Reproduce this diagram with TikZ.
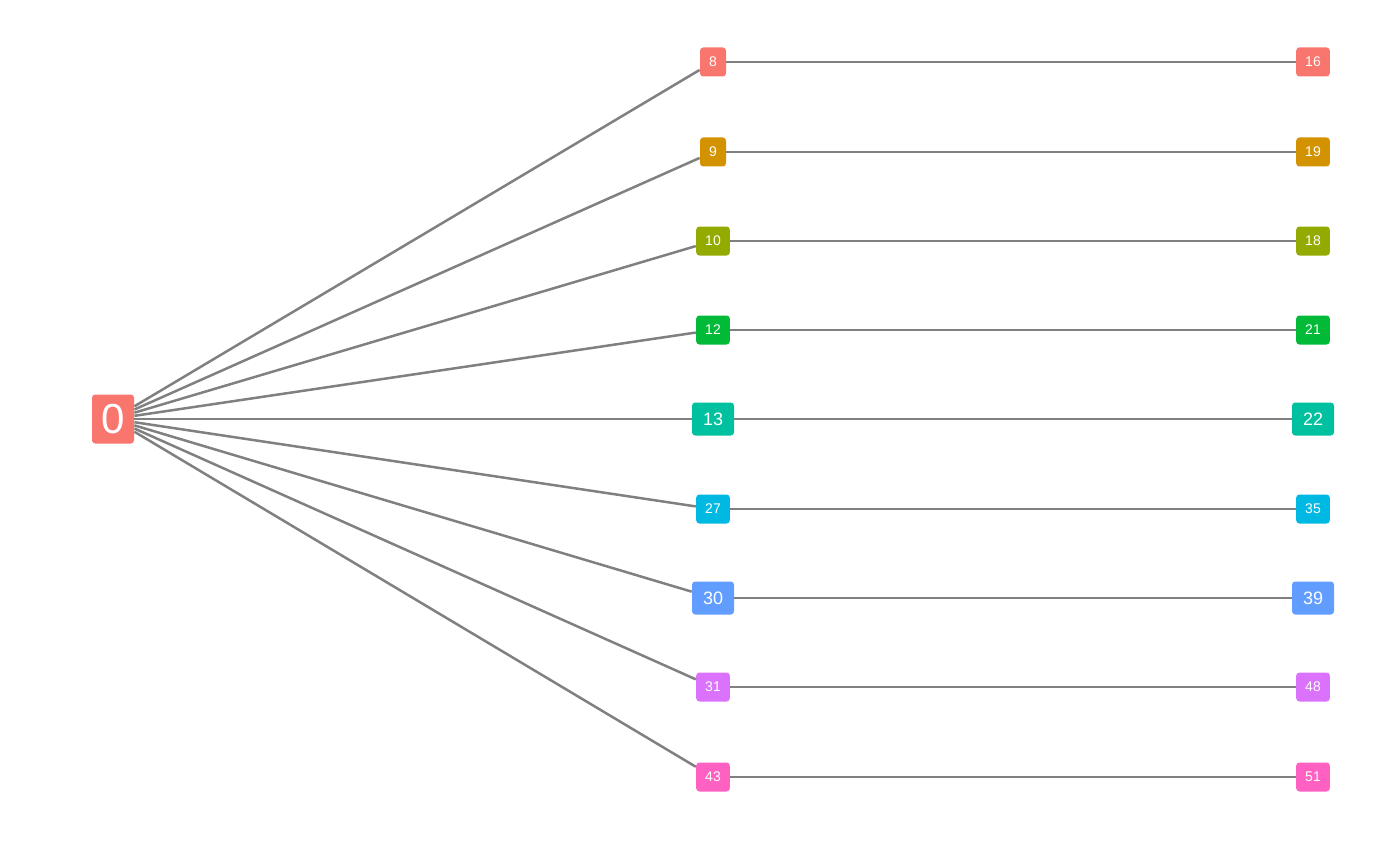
\documentclass[tikz,border=0pt]{standalone}
\usepackage{fontspec}
\setmainfont{Liberation Sans}
\definecolor{hueA}{HTML}{F8766D}
\definecolor{hueB}{HTML}{D39200}
\definecolor{hueC}{HTML}{93AA00}
\definecolor{hueD}{HTML}{00BA38}
\definecolor{hueE}{HTML}{00C19F}
\definecolor{hueF}{HTML}{00B9E3}
\definecolor{hueG}{HTML}{619CFF}
\definecolor{hueH}{HTML}{DB72FB}
\definecolor{hueI}{HTML}{FF61C3}
\tikzset{x=0.5pt, y=-0.5pt, % one unit is one pixel of the picture
every node/.style={text=white, rounded corners=1.6pt, inner sep=0pt}, % white labels on rounded boxes
leaf/.style={fill=#1, font=\fontsize{7}{8}\selectfont, minimum height=14.5pt, minimum width=13pt, inner xsep=4.5pt}, % small boxes
big/.style={fill=#1, font=\fontsize{9}{10}\selectfont, minimum height=16.5pt, minimum width=21pt}, % larger boxes
root/.style={fill=#1, font=\fontsize{21}{24}\selectfont, minimum height=24.5pt, minimum width=21pt}, % the root box
link/.style={draw=black!50, line width=1.25pt}, % the edges
}
\begin{document}
\begin{tikzpicture}
\useasboundingbox (0,0) rectangle (1400,866);
\node[root=hueA] (0) at (113,419) {0};
\node[leaf=hueA] (8) at (713,62) {8};
\node[leaf=hueB] (9) at (713,152) {9};
\node[leaf=hueC] (10) at (713,241) {10};
\node[leaf=hueD] (12) at (713,330) {12};
\node[big=hueE] (13) at (713,419) {13};
\node[leaf=hueF] (27) at (713,509) {27};
\node[big=hueG] (30) at (713,598) {30};
\node[leaf=hueH] (31) at (713,687) {31};
\node[leaf=hueI] (43) at (713,777) {43};
\node[leaf=hueA] (16) at (1313,62) {16};
\node[leaf=hueB] (19) at (1313,152) {19};
\node[leaf=hueC] (18) at (1313,241) {18};
\node[leaf=hueD] (21) at (1313,330) {21};
\node[big=hueE] (22) at (1313,419) {22};
\node[leaf=hueF] (35) at (1313,509) {35};
\node[big=hueG] (39) at (1313,598) {39};
\node[leaf=hueH] (48) at (1313,687) {48};
\node[leaf=hueI] (51) at (1313,777) {51};
\foreach \a/\b in {0/8, 0/9, 0/10, 0/12, 0/13, 0/27, 0/30, 0/31, 0/43, 8/16, 9/19, 10/18, 12/21, 13/22, 27/35, 30/39, 31/48, 43/51}
  \draw[link] (\a) -- (\b);
\end{tikzpicture}
\end{document}
